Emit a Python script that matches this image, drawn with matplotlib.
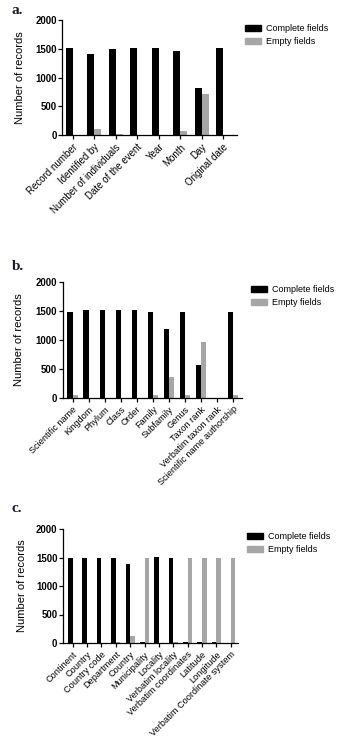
import matplotlib
matplotlib.use("Agg")
import matplotlib.pyplot as plt
from matplotlib.patches import Patch

plt.rcParams['font.family'] = ['Liberation Sans', 'DejaVu Sans']

# panel a: dates / identification
a_categories = ["Record number", "Identified by", "Number of individuals", "Date of the event",
                "Year", "Month", "Day", "Original date"]
a_complete = [1510, 1415, 1500, 1510, 1510, 1455, 820, 1510]
a_empty = [0, 105, 23, 0, 0, 72, 708, 0]

# panel b: taxonomy
b_categories = ["Scientific name", "Kingdom", "Phylum", "Class", "Order", "Family", "Subfamily",
                "Genus", "Taxon rank", "Verbatim taxon rank", "Scientific name authorship"]
b_complete = [1470, 1515, 1515, 1515, 1515, 1470, 1180, 1470, 560, 0, 1470]
b_empty = [50, 0, 0, 0, 0, 55, 355, 55, 960, 0, 50]

# panel c: location
c_categories = ["Continent", "Country", "Country code", "Department", "Country", "Municipality",
                "Locality", "Verbatim locality", "Verbatim coordinates", "Latitude", "Longitude",
                "Verbatim Coordinate system"]
c_complete = [1500, 1500, 1500, 1500, 1390, 10, 1510, 1500, 10, 10, 10, 0]
c_empty = [0, 0, 0, 10, 120, 1500, 0, 10, 1500, 1500, 1500, 1500]

BLACK = '#000000'
GREY = '#a6a6a6'
W, H = 343, 744

fig = plt.figure(figsize=(W / 100, H / 100), dpi=100)


def panel(letter, cats, complete, empty, box, left_pad, right_pad, label_x, leg_xy, fs):
    x0, x1, ytop, ybot = box
    ax = fig.add_axes([x0 / W, 1 - ybot / H, (x1 - x0) / W, (ybot - ytop) / H])
    n = len(cats)
    w = 0.32
    xs = list(range(n))
    ax.bar([x - w / 2 for x in xs], complete, width=w, color=BLACK, label='Complete fields')
    ax.bar([x + w / 2 for x in xs], empty, width=w, color=GREY, label='Empty fields')
    ax.set_xlim(-left_pad, n - 1 + right_pad)
    ax.set_ylim(0, 2000)
    ax.set_yticks([0, 500, 1000, 1500, 2000])
    ax.set_xticks(xs)
    ax.set_xticklabels(cats, rotation=45, ha='right', rotation_mode='anchor', fontsize=fs)
    for t in ax.get_yticklabels():
        t.set_fontsize(6.9)
        t.set_fontweight('bold')
    ax.tick_params(axis='both', direction='out', length=3, width=0.9, pad=1.2)
    ax.tick_params(axis='x', pad=2)
    for s in ['top', 'right']:
        ax.spines[s].set_visible(False)
    for s in ['left', 'bottom']:
        ax.spines[s].set_linewidth(0.9)
    ax.set_ylabel('Number of records', fontsize=8)
    ax.yaxis.set_label_coords(label_x / W, 1 - (ytop + ybot) / 2 / H, transform=fig.transFigure)
    ax.legend(handles=[Patch(color=BLACK, label='Complete fields'),
                       Patch(color=GREY, label='Empty fields')],
              loc='upper left', bbox_to_anchor=(leg_xy[0] / W, 1 - leg_xy[1] / H),
              bbox_transform=fig.transFigure, frameon=False, fontsize=6.5,
              handlelength=1.8, handleheight=0.7, handletextpad=0.5,
              labelspacing=0.45, borderpad=0, borderaxespad=0)
    fig.text(12 / W, 1 - letter[1] / H, letter[0], fontsize=11, fontweight='bold',
             family='Liberation Serif', color='#1c1c2c', va='center', ha='left')
    return ax


panel(('a.', 11), a_categories, a_complete, a_empty, (62.5, 237, 20, 135),
      0.47, 0.64, 25, (245, 24), 7)
panel(('b.', 266), b_categories, b_complete, b_empty, (63, 242, 281.7, 397.7),
      0.6, 0.58, 24, (251, 285), 6.6)
panel(('c.', 509), c_categories, c_complete, c_empty, (63.3, 238, 529, 643),
      0.65, 0.5, 27, (247, 532), 6.6)

fig.savefig('out.png', dpi=100)
